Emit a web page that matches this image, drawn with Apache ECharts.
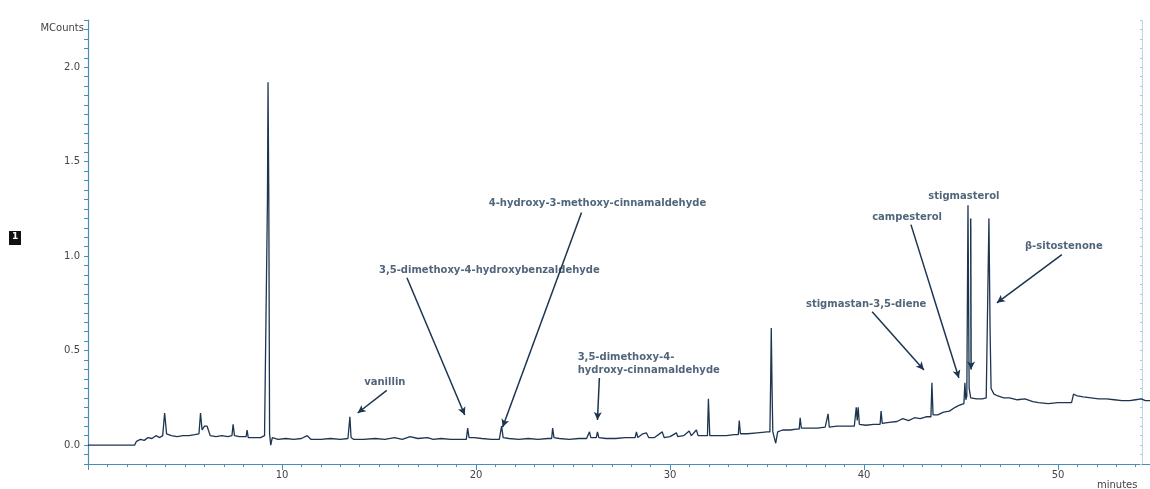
<!DOCTYPE html>
<html>
<head>
<meta charset="utf-8">
<script src="https://cdn.jsdelivr.net/npm/echarts@6/dist/echarts.min.js"></script>
<style>
html,body{margin:0;padding:0;background:#fff}
#chart{width:1150px;height:489px}
</style>
</head>
<body>
<div id="chart"></div>
<script>
// retention time (min) and signal (MCounts)
const times = [
  0.0,2.4,2.5,2.7,2.9,3.1,3.3,3.5,3.7,3.85,3.95,4.05,4.3,4.6,4.9,5.2,5.5,
  5.72,5.8,5.88,6.0,6.14,6.3,6.6,6.9,7.2,7.42,7.48,7.55,7.8,8.15,8.2,8.26,8.6,8.9,9.1,
  9.2,9.25,9.28,9.32,9.36,9.42,9.5,9.8,10.2,10.6,11.0,11.3,11.5,12.0,12.5,13.0,13.4,
  13.45,13.5,13.56,13.7,14.2,14.8,15.3,15.8,16.2,16.6,17.0,17.5,17.8,18.2,18.7,19.2,
  19.5,19.57,19.64,19.9,20.3,20.8,21.2,21.27,21.32,21.4,21.7,22.2,22.7,23.2,23.7,
  23.9,23.95,24.02,24.3,24.8,25.3,25.7,25.8,25.85,25.92,26.2,26.26,26.33,26.7,27.2,27.7,
  28.2,28.27,28.34,28.6,28.78,28.9,29.2,29.6,29.7,30.0,30.33,30.4,30.7,30.99,31.1,31.36,31.45,31.8,
  31.93,31.98,32.05,32.4,32.9,33.3,33.52,33.57,33.63,34.0,34.5,35.0,
  35.15,35.19,35.22,35.26,35.3,35.45,35.55,35.8,36.2,36.5,
  36.66,36.71,36.77,37.1,37.6,38.0,38.1,38.15,38.21,38.6,39.1,39.5,
  39.55,39.6,39.65,39.7,39.76,40.1,40.5,40.83,40.88,40.94,41.3,41.7,42.0,42.3,42.6,42.9,43.2,
  43.45,43.5,43.56,43.8,44.1,44.4,44.7,44.9,45.15,45.2,45.25,45.3,45.36,45.42,45.5,45.8,46.1,46.3,
  46.4,46.44,46.5,46.55,46.7,46.9,47.2,47.5,47.9,48.3,48.7,49.0,49.5,50.0,
  50.7,50.8,51.0,51.3,51.7,52.1,52.5,52.9,53.3,53.7,54.0,54.3,54.5,55.0
];
const counts = [
  0.0,0.0,0.02,0.03,0.025,0.04,0.035,0.05,0.04,0.05,0.17,0.06,0.05,0.045,0.05,0.05,0.055,
  0.06,0.17,0.08,0.1,0.1,0.05,0.045,0.05,0.045,0.05,0.11,0.05,0.045,0.045,0.08,0.04,0.04,0.04,0.05,
  0.05,1.3,1.92,1.3,0.06,0.0,0.04,0.03,0.035,0.03,0.035,0.05,0.03,0.03,0.035,0.03,0.035,
  0.04,0.15,0.04,0.03,0.03,0.035,0.03,0.04,0.03,0.045,0.035,0.04,0.03,0.035,0.03,0.03,
  0.03,0.09,0.04,0.04,0.035,0.03,0.03,0.04,0.1,0.04,0.035,0.03,0.035,0.03,0.035,
  0.035,0.09,0.04,0.035,0.03,0.035,0.035,0.04,0.07,0.04,0.04,0.07,0.04,0.035,0.035,0.04,
  0.04,0.07,0.04,0.06,0.065,0.04,0.04,0.07,0.04,0.045,0.065,0.045,0.05,0.075,0.05,0.08,0.05,0.05,
  0.05,0.245,0.05,0.05,0.05,0.055,0.055,0.13,0.06,0.06,0.065,0.07,
  0.07,0.35,0.62,0.3,0.07,0.01,0.07,0.08,0.08,0.085,
  0.085,0.145,0.09,0.09,0.09,0.095,0.095,0.165,0.095,0.1,0.1,0.1,
  0.1,0.2,0.13,0.2,0.11,0.105,0.11,0.11,0.18,0.115,0.12,0.125,0.14,0.13,0.145,0.14,0.15,
  0.15,0.33,0.16,0.16,0.175,0.18,0.2,0.21,0.22,0.33,0.24,0.26,1.27,0.3,0.25,0.245,0.245,0.25,
  0.26,1.2,0.6,0.3,0.27,0.26,0.25,0.25,0.24,0.245,0.23,0.225,0.22,0.225,
  0.225,0.27,0.26,0.255,0.25,0.245,0.245,0.24,0.235,0.235,0.24,0.245,0.235,0.235
];

// peak labels: text, anchor [time, MCounts], alignment
const peakNames = [
  'vanillin',
  '3,5-dimethoxy-4-hydroxybenzaldehyde',
  '4-hydroxy-3-methoxy-cinnamaldehyde',
  '3,5-dimethoxy-4-\nhydroxy-cinnamaldehyde',
  'stigmastan-3,5-diene',
  'campesterol',
  'stigmasterol',
  'β-sitostenone'
];
const labelAt = [
  [15.3,0.33],[20.69,0.923],[26.26,1.278],[25.24,0.432],
  [40.11,0.743],[42.22,1.204],[45.15,1.316],[50.3,1.05]
];
const labelAlign = ['center','center','center','left','center','center','center','center'];
// arrows from label to peak: [from, to]
const arrowFrom = [
  [15.4,0.29],[16.44,0.886],[25.44,1.231],[26.36,0.355],
  [40.42,0.706],[42.42,1.167],[45.5,1.2],[50.2,1.008]
];
const arrowTo = [
  [13.9,0.17],[19.42,0.159],[21.37,0.095],[26.26,0.133],
  [43.09,0.398],[44.89,0.355],[45.52,0.4],[46.85,0.753]
];

const axisBlue = '#4a8db5';
const ink = '#1c3550';
const fnt = 'DejaVu Sans';

const chart = echarts.init(document.getElementById('chart'));
chart.setOption({
  animation:false,
  backgroundColor:'#fff',
  grid:{left:88,right:-5,top:20,bottom:25,containLabel:false,outerBoundsMode:'none'},
  xAxis:{type:'value',min:0,max:55,interval:10,
    axisLine:{onZero:false,lineStyle:{color:axisBlue,width:1.2}},
    axisTick:{length:6,lineStyle:{color:axisBlue}},
    minorTick:{show:true,splitNumber:10,length:3,lineStyle:{color:axisBlue}},
    splitLine:{show:false},
    axisLabel:{color:'#444',fontSize:10,fontFamily:fnt,margin:6,
      formatter:v=>(v===0||v>=55)?'':String(v)}},
  yAxis:[
    {type:'value',min:-0.1,max:2.25,interval:0.05,
      name:'MCounts',nameLocation:'end',nameGap:-8,
      nameTextStyle:{color:'#444',fontSize:10,fontFamily:fnt,align:'right',verticalAlign:'middle',padding:[0,4,0,0]},
      axisLine:{lineStyle:{color:axisBlue,width:1.2}},
      axisTick:{length:4,lineStyle:{color:axisBlue}},
      splitLine:{show:false},
      axisLabel:{color:'#444',fontSize:10,fontFamily:fnt,margin:8,
        formatter:v=>{const h=v*2;return (v>-0.01&&Math.abs(h-Math.round(h))<1e-6)?(Math.round(h)/2).toFixed(1):'';}}},
    {type:'value',min:-0.1,max:2.25,interval:0.05,position:'right',offset:-13,
      axisLine:{show:true,lineStyle:{color:'#a9cde2',type:'dotted'}},
      axisTick:{show:true,inside:true,length:2,lineStyle:{color:'#a9cde2'}},
      axisLabel:{show:false},splitLine:{show:false}}
  ],
  series:[
    {type:'line',data:times.map((t,i)=>[t,counts[i]]),showSymbol:false,symbol:'none',
      sampling:'none',lineStyle:{color:ink,width:1.3},
      markLine:{silent:true,symbol:['none','arrow'],symbolSize:[6,8],
        lineStyle:{color:ink,width:1.5,type:'solid'},label:{show:false},
        data:arrowFrom.map((f,i)=>[{coord:f},{coord:arrowTo[i]}])}},
    {type:'scatter',symbolSize:0,silent:true,
      data:peakNames.map((n,i)=>({name:n,value:labelAt[i],
        label:{align:labelAlign[i]}})),
      label:{show:true,position:'inside',formatter:p=>p.name,color:'#243e58',
        fontSize:10,fontFamily:fnt,fontWeight:'bold',lineHeight:13}}
  ],
  graphic:[
    {type:'rect',left:9,top:231,shape:{width:12,height:14},style:{fill:'#111'}},
    {type:'text',left:12,top:232,style:{text:'1',fill:'#fff',font:'bold 9px '+fnt}},
    {type:'text',left:1097,top:480,style:{text:'minutes',fill:'#444',font:'10px '+fnt}}
  ]
});
</script>
</body>
</html>
